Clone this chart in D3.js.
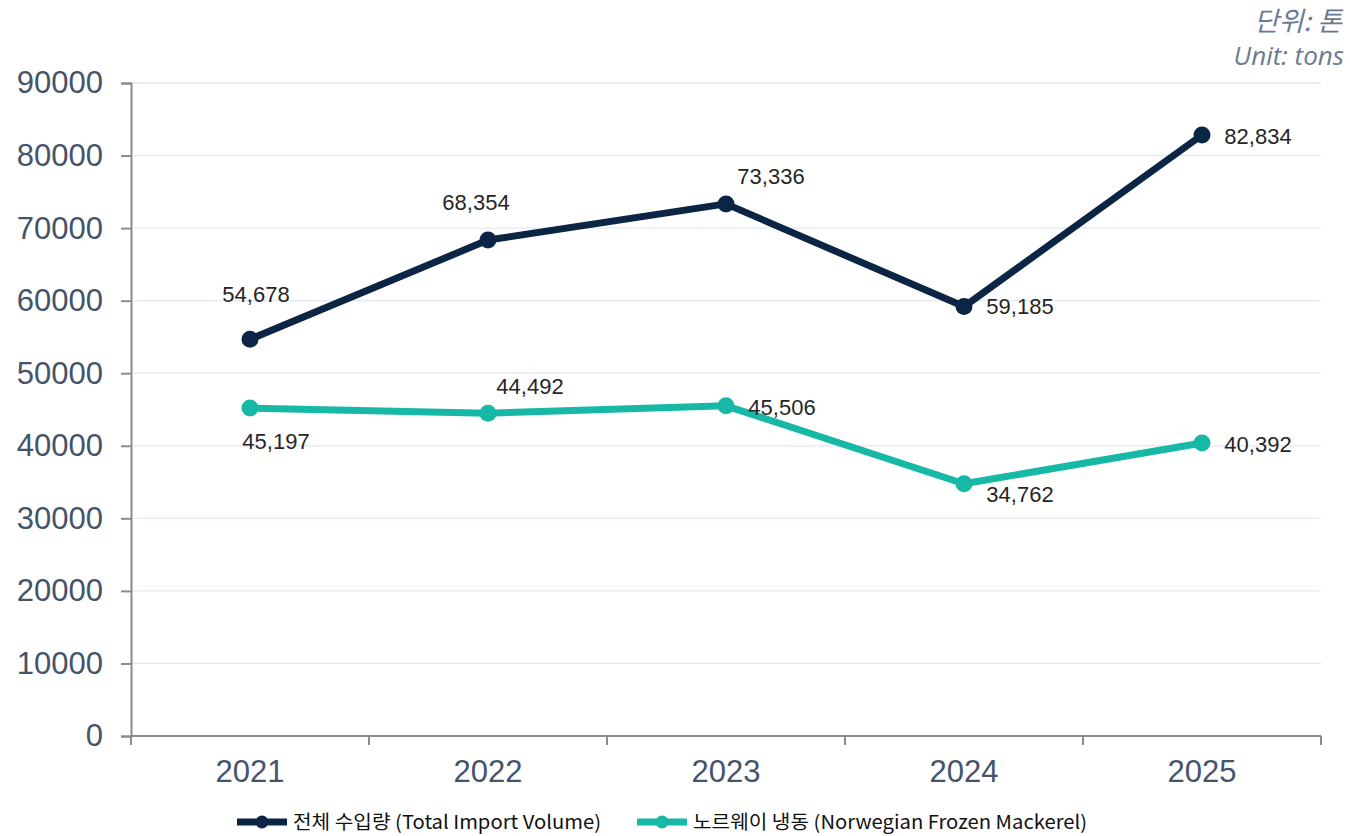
<!DOCTYPE html>
<html>
<head>
<meta charset="utf-8">
<script src="https://cdn.jsdelivr.net/npm/d3@7"></script>
<style>
  body { margin: 0; background: #fff; }
  svg { display: block; }
</style>
</head>
<body>
<svg id="chart" width="1350" height="836"></svg>
<script>
const years = ["2021", "2022", "2023", "2024", "2025"];
const totalImport = [54678, 68354, 73336, 59185, 82834];
const norwegianFrozen = [45197, 44492, 45506, 34762, 40392];
const yTicks = [0, 10000, 20000, 30000, 40000, 50000, 60000, 70000, 80000, 90000];
const seriesNames = ["전체 수입량 (Total Import Volume)", "노르웨이 냉동 (Norwegian Frozen Mackerel)"];

// label offsets (dx, dy) relative to each point
const totalLabelOffsets = [[6, -45], [-12, -38], [45, -28], [56, 0], [56, 1]];
const norwayLabelOffsets = [[26, 33], [42, -27], [56, 1], [56, 11], [56, 1]];

const svg = d3.select("#chart");
const margin = { top: 83, right: 29, bottom: 100, left: 131 };
const plotWidth = 1350 - margin.left - margin.right;
const plotHeight = 836 - margin.top - margin.bottom;

const g = svg.append("g")
  .attr("transform", `translate(${margin.left}, ${margin.top})`);

const x = d3.scaleBand()
  .domain(years)
  .range([0, plotWidth]);

const y = d3.scaleLinear()
  .domain([0, 90000])
  .range([plotHeight, 0]);

const navy = "#0d2544";
const teal = "#17b8a6";
const tickColor = "#44546a";

// gridlines
g.selectAll(".grid")
  .data(yTicks.slice(1))
  .enter()
  .append("line")
  .attr("x1", 0)
  .attr("x2", plotWidth)
  .attr("y1", d => y(d))
  .attr("y2", d => y(d))
  .attr("stroke", "#e3e8f1")
  .attr("stroke-width", 1.3);

// y axis
const yAxis = g.append("g")
  .call(d3.axisLeft(y).tickValues(yTicks).tickSize(10).tickPadding(18).tickFormat(d3.format("d")));
yAxis.select(".domain").attr("stroke", "#8c8c8c").attr("stroke-width", 2);
yAxis.selectAll(".tick line").attr("stroke", "#8c8c8c").attr("stroke-width", 2);
yAxis.selectAll("text")
  .attr("fill", tickColor)
  .style("font-family", "Liberation Sans, Arial, sans-serif")
  .style("font-size", "31px");

// x axis
const xAxis = g.append("g")
  .attr("transform", `translate(0, ${plotHeight})`)
  .call(d3.axisBottom(x).tickSize(0).tickPadding(24));
xAxis.select(".domain").remove();
xAxis.selectAll("text")
  .attr("fill", tickColor)
  .style("font-family", "Liberation Sans, Arial, sans-serif")
  .style("font-size", "31px");

g.append("line")
  .attr("x1", 0).attr("x2", plotWidth)
  .attr("y1", plotHeight).attr("y2", plotHeight)
  .attr("stroke", "#8c8c8c").attr("stroke-width", 2);

const boundaries = years.map(d => x(d)).concat([plotWidth]);
g.selectAll(".xtick")
  .data(boundaries)
  .enter()
  .append("line")
  .attr("x1", d => d).attr("x2", d => d)
  .attr("y1", plotHeight).attr("y2", plotHeight + 9)
  .attr("stroke", "#8c8c8c").attr("stroke-width", 2);

const cx = d => x(d) + x.bandwidth() / 2;

const series = [
  { values: totalImport, color: navy, offsets: totalLabelOffsets },
  { values: norwegianFrozen, color: teal, offsets: norwayLabelOffsets }
];

const line = d3.line()
  .x((d, i) => cx(years[i]))
  .y(d => y(d));

// draw teal first so navy sits on top
series.slice().reverse().forEach(s => {
  g.append("path")
    .datum(s.values)
    .attr("d", line)
    .attr("fill", "none")
    .attr("stroke", s.color)
    .attr("stroke-width", 7)
    .attr("stroke-linejoin", "round");

  g.selectAll(null)
    .data(s.values)
    .enter()
    .append("circle")
    .attr("cx", (d, i) => cx(years[i]))
    .attr("cy", d => y(d))
    .attr("r", 8.5)
    .attr("fill", s.color);

  g.selectAll(null)
    .data(s.values)
    .enter()
    .append("text")
    .attr("x", (d, i) => cx(years[i]) + s.offsets[i][0])
    .attr("y", (d, i) => y(d) + s.offsets[i][1])
    .attr("dy", "0.35em")
    .attr("text-anchor", "middle")
    .attr("fill", "#262626")
    .style("font-family", "Liberation Sans, Arial, sans-serif")
    .style("font-size", "22px")
    .text(d => d3.format(",")(d));
});

// unit note
svg.append("text")
  .attr("x", 1342).attr("y", 31)
  .attr("text-anchor", "end")
  .attr("fill", "#6b7a90")
  .style("font-family", "Noto Sans CJK KR, sans-serif")
  .style("font-style", "italic")
  .style("font-size", "27px")
  .text("단위: 톤");

svg.append("text")
  .attr("x", 1344).attr("y", 65)
  .attr("text-anchor", "end")
  .attr("fill", "#6b7a90")
  .style("font-family", "Open Sans, sans-serif")
  .style("font-style", "italic")
  .style("font-size", "26px")
  .text("Unit: tons");

// legend
const legendX = [237, 637];
const legendWidths = [308, 394];
const legend = svg.append("g");
series.forEach((s, i) => {
  const lg = legend.append("g").attr("transform", `translate(${legendX[i]}, 822)`);
  lg.append("line")
    .attr("x1", 0).attr("x2", 50)
    .attr("stroke", s.color).attr("stroke-width", 7);
  lg.append("circle")
    .attr("cx", 25).attr("r", 6.5).attr("fill", s.color);
  lg.append("text")
    .attr("x", 56).attr("dy", "0.35em")
    .attr("fill", "#111")
    .attr("textLength", legendWidths[i])
    .attr("lengthAdjust", "spacingAndGlyphs")
    .style("font-family", "Noto Sans CJK KR, sans-serif")
    .style("font-size", "19px")
    .text(seriesNames[i]);
});
</script>
</body>
</html>
